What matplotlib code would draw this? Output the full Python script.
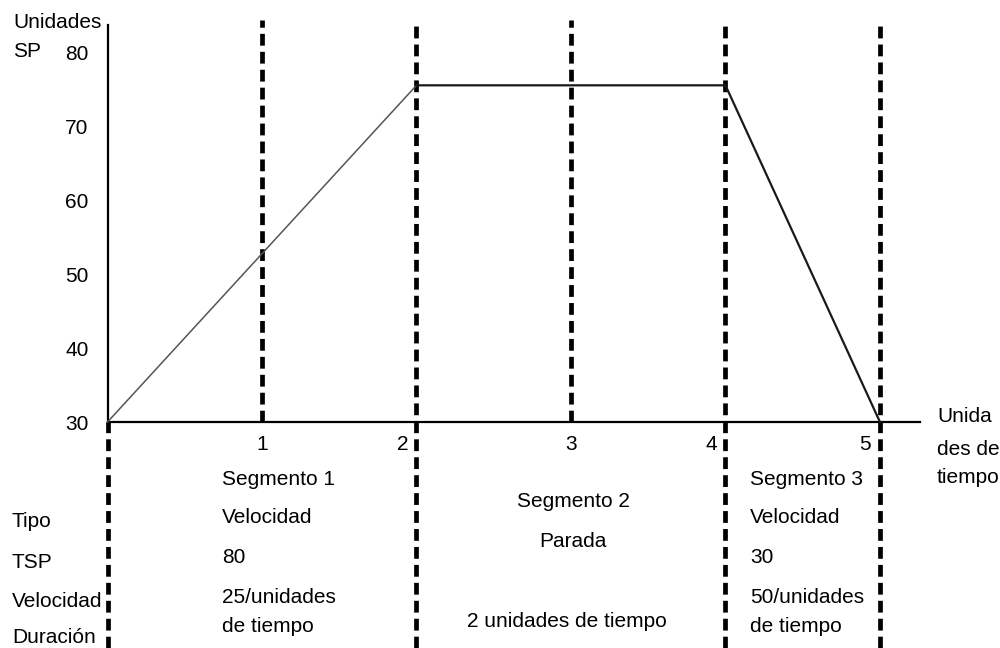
import matplotlib
matplotlib.use("Agg")
import matplotlib.pyplot as plt

plt.rcParams['font.family'] = ['Liberation Sans', 'DejaVu Sans']

# setpoint profile (time units, SP units)
prof_t = [0, 2, 4, 5]
prof_sp = [30, 75.5, 75.5, 30]

x_ticks = [1, 2, 3, 4, 5]
y_ticks = [30, 40, 50, 60, 70, 80]
full_lines = [2, 4, 5]      # dashed lines running the full height
upper_lines = [1, 3]        # dashed lines only above the time axis

row_labels = ["Tipo", "TSP", "Velocidad", "Duración"]
seg1 = ["Segmento 1", "Velocidad", "80", "25/unidades", "de tiempo"]
seg2 = ["Segmento 2", "Parada", "2 unidades de tiempo"]
seg3 = ["Segmento 3", "Velocidad", "30", "50/unidades", "de tiempo"]

W, H = 1000, 648
FS = 15


def fx(px):
    return px / W


def fy(py):
    return 1 - py / H


fig = plt.figure(figsize=(10, 6.48), dpi=100)
ax = fig.add_axes([0, 0, 1, 1])
ax.set_xlim(-0.696, 5.777)
ax.set_ylim(-0.54, 87.03)
ax.axis("off")

y_bot, y_axis_top, dash_top = -0.54, 83.65, 84.3
dash = dict(color="black", lw=3.4, ls=(0, (2.5, 1.3)), solid_capstyle="butt")

# dashed segment boundaries
for t in full_lines:
    ax.plot([t, t], [y_bot, dash_top], **dash)
for t in upper_lines:
    ax.plot([t, t], [30, dash_top], **dash)
ax.plot([0, 0], [y_bot, 30], **dash)

# axes
ax.plot([0, 0], [30, y_axis_top], color="black", lw=1.6)
ax.plot([0, 5.26], [30, 30], color="black", lw=1.6)

# profile
ax.plot(prof_t[:2], prof_sp[:2], color="#555555", lw=1.1)
ax.plot(prof_t[1:], prof_sp[1:], color="#1a1a1a", lw=1.6)

# tick labels
for v in y_ticks:
    ax.annotate(str(v), xy=(0, v), xytext=(-19, -8), textcoords="offset pixels",
                ha="right", va="baseline", fontsize=FS)
xt_ha = ["center", "right", "center", "right", "right"]
xt_dx = [0, -8, 0, -8, -9]
for t, ha, dx in zip(x_ticks, xt_ha, xt_dx):
    ax.annotate(str(t), xy=(t, 30), xytext=(dx, -28), textcoords="offset pixels",
                ha=ha, va="baseline", fontsize=FS)

# axis titles
fig.text(fx(13), fy(28), "Unidades", fontsize=FS, va="baseline")
fig.text(fx(13), fy(57), "SP", fontsize=FS, va="baseline")
for s, b in zip(["Unida", "des de", "tiempo"], [422, 455, 483]):
    fig.text(fx(937), fy(b), s, fontsize=FS, va="baseline")

# table under the chart
for s, b in zip(row_labels, [527, 568, 607, 643]):
    fig.text(fx(12), fy(b), s, fontsize=FS, va="baseline")
seg_base = [485, 523, 563, 603, 632]
for s, b in zip(seg1, seg_base):
    fig.text(fx(222), fy(b), s, fontsize=FS, va="baseline")
for s, b in zip(seg3, seg_base):
    fig.text(fx(750), fy(b), s, fontsize=FS, va="baseline")
for s, b, x in zip(seg2, [507, 547, 627], [573, 573, 567]):
    fig.text(fx(x), fy(b), s, fontsize=FS, va="baseline", ha="center")

fig.savefig("out.png", dpi=100)
